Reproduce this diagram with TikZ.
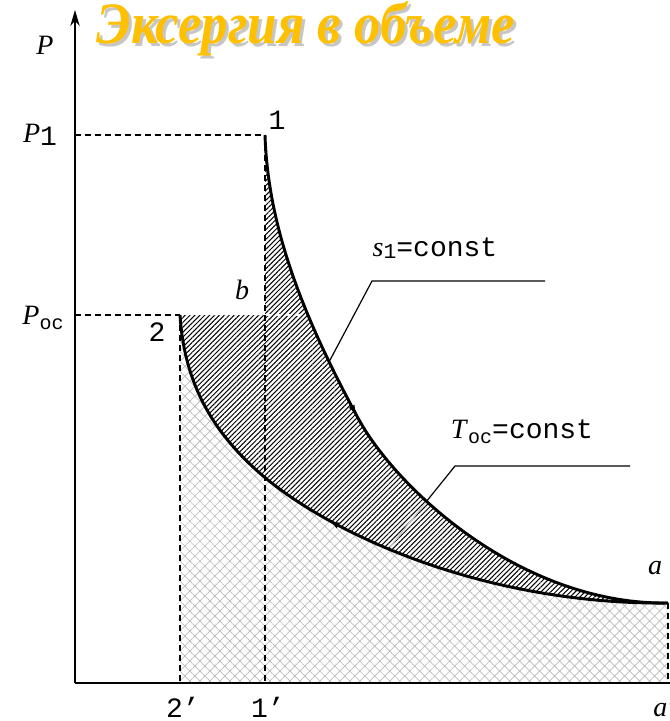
\documentclass[tikz,border=0pt]{standalone}
\usepackage{fontspec}
\setmainfont{Liberation Serif}
\newfontfamily\monofam{Liberation Mono}
\usetikzlibrary{patterns.meta,decorations.markings,arrows.meta}
\definecolor{titlegold}{RGB}{255,192,0}

\begin{document}
\begin{tikzpicture}[
    x=0.75pt, y=-0.75pt,
    axis/.style={line width=1.5pt},
    curve/.style={line width=2.2pt},
    guide/.style={line width=0.9pt, dash pattern=on 4.5pt off 3pt},
    leader/.style={line width=0.9pt},
    lbl/.style={font=\fontsize{21}{24}\selectfont, inner sep=0pt},
    titletext/.style={font=\fontsize{44}{48}\selectfont\bfseries\itshape, inner sep=0pt, anchor=base, xscale=0.9, transform shape},
    hatch/.style={pattern={Lines[angle=45, distance=2.6pt, line width=0.75pt]}},
    cross/.style={pattern={Lines[angle=#1, distance=5.3pt, line width=0.5pt]}, pattern color=gray!55}
]
    \useasboundingbox (0,0) rectangle (669,721);

    % Points of the diagram
    \coordinate (O) at (75,683);
    \coordinate (ytop) at (75,10);
    \coordinate (xend) at (672,683);
    \coordinate (p1) at (265,135);
    \coordinate (p2) at (180,315);
    \coordinate (pb) at (265,315);
    \coordinate (pa) at (668,603);
    \coordinate (smid) at (358,418);
    \coordinate (tmid) at (253,467);
    \coordinate (p1x) at (265,683);
    \coordinate (p2x) at (180,683);
    \coordinate (pax) at (668,683);
    \coordinate (p1y) at (75,135);
    \coordinate (p2y) at (75,315);
    \coordinate (bs) at (306,315);

    % Leader points
    \coordinate (sTip) at (545,281);
    \coordinate (sKnee) at (372,281);
    \coordinate (sEnd) at (329,362);
    \coordinate (tTip) at (630,466);
    \coordinate (tKnee) at (455,466);
    \coordinate (tIn) at (426,502);
    \coordinate (tEnd) at (390,547);

    % Cross-hatched area under T=const
    \foreach \ang in {45,-45}
        \fill[cross=\ang] (p2) .. controls (184,380) and (210,427) .. (tmid)
            .. controls (320,530) and (480,605) .. (pa) -- (pax) -- (p2x) -- cycle;

    % Hatched area between the curves
    \fill[hatch] (p2) -- (pb) -- (p1) .. controls (268,230) and (305,320) .. (smid)
        .. controls (395,487) and (520,605) .. (pa)
        .. controls (480,605) and (320,530) .. (tmid)
        .. controls (210,427) and (184,380) .. (p2) -- cycle;

    % White lines across the hatching
    \draw[guide, white] (pb) -- (bs);
    \draw[leader, white!80!black] (tIn) -- (tEnd);

    % Dashed guides
    \draw[guide] (p1y) -- (p1);
    \draw[guide] (p2y) -- (p2);
    \draw[guide] (p1) -- (p1x);
    \draw[guide] (p2) -- (p2x);
    \draw[guide] (pa) -- (pax);

    % s1=const
    \draw[curve, postaction={decorate}, decoration={markings, mark=at position 0.44 with {\arrow{Latex[length=8pt, width=5pt]}}}]
        (p1) .. controls (268,230) and (305,320) .. (smid) .. controls (395,487) and (520,605) .. (pa);
    % Toc=const
    \draw[curve, postaction={decorate}, decoration={markings, mark=at position 0.43 with {\arrowreversed{Latex[length=8pt, width=5pt]}}}]
        (p2) .. controls (184,380) and (210,427) .. (tmid) .. controls (320,530) and (480,605) .. (pa);

    % Axes
    \draw[axis, -{Stealth[length=12pt, width=7pt]}] (O) -- (ytop);
    \draw[axis] (O) -- (xend);

    % Leaders
    \draw[leader] (sTip) -- (sKnee) -- (sEnd);
    \draw[leader] (tTip) -- (tKnee) -- (tIn);

    % Labels
    \node[lbl] (lP) at (45,45) {\textit{P}};
    \node[lbl] (lP1) at (40,135) {\textit{P}\raisebox{-0.2ex}{\monofam 1}};
    \node[lbl] (lPoc) at (43,318) {\textit{P}\raisebox{-0.4ex}{\fontsize{15}{15}\selectfont\monofam ос}};
    \node[lbl] (l1) at (277,120) {\monofam 1};
    \node[lbl] (l2) at (157,332) {\monofam 2};
    \node[lbl] (lb) at (242,290) {\textit{b}};
    \node[lbl] (la) at (655,568) {\textit{a}};
    \node[lbl] (l2x) at (183,707) {\monofam 2’};
    \node[lbl] (l1x) at (268,707) {\monofam 1’};
    \node[lbl] (lax) at (665,707) {\textit{a}’};
    \node[lbl] (ls) at (435,248) {\textit{s}\raisebox{-0.2ex}{\fontsize{16}{16}\selectfont\monofam 1}{\monofam =const}};
    \node[lbl] (lT) at (522,432) {\textit{T}\raisebox{-0.4ex}{\fontsize{15}{15}\selectfont\monofam ос}{\monofam =const}};

    % Title
    \node[titletext, text=gray!45] (titleshadow) at (309,46) {Эксергия в объеме};
    \node[titletext, text=titlegold] (title) at (306,43) {Эксергия в объеме};
\end{tikzpicture}
\end{document}
